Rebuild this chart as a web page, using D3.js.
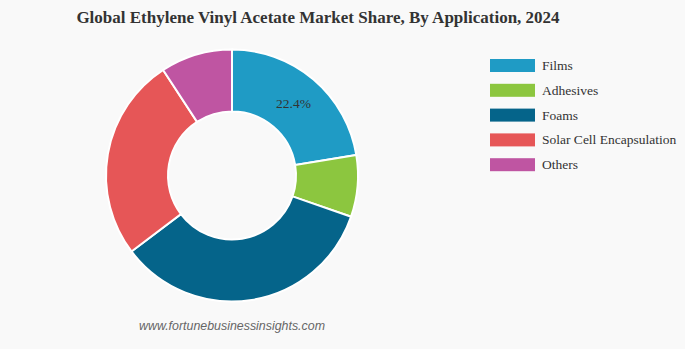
<!DOCTYPE html>
<html>
<head>
<meta charset="utf-8">
<script src="https://cdn.jsdelivr.net/npm/d3@7"></script>
<style>
  body { margin: 0; background: #f9f9f9; }
  svg { display: block; }
</style>
</head>
<body>
<svg width="685" height="349"></svg>
<script>
var categories = ["Films", "Adhesives", "Foams", "Solar Cell Encapsulation", "Others"];
var shares = [22.4, 7.9, 34.4, 26.1, 9.2];
var colors = ["#1f9bc5", "#8cc63f", "#05648a", "#e65657", "#bf55a2"];
var labelled = ["Films"];

var width = 685, height = 349;
var cx = 232, cy = 175.5;
var outerR = 126, innerR = 64;

var svg = d3.select("svg");

svg.append("rect")
  .attr("width", width)
  .attr("height", height)
  .attr("fill", "#f9f9f9");

// title
svg.append("text")
  .text("Global Ethylene Vinyl Acetate Market Share, By Application, 2024")
  .attr("x", 318)
  .attr("y", 23)
  .attr("text-anchor", "middle")
  .style("font-family", "'Liberation Serif', 'Times New Roman', serif")
  .style("font-weight", "bold")
  .style("font-size", "17px")
  .attr("fill", "#333");

var data = categories.map(function(c, i) {
  return { name: c, value: shares[i] };
});

var color = d3.scaleOrdinal().domain(categories).range(colors);

var pie = d3.pie().value(function(d) { return d.value; }).sort(null);
var arc = d3.arc().innerRadius(innerR).outerRadius(outerR);

var g = svg.append("g").attr("transform", "translate(" + cx + "," + cy + ")");

g.selectAll("path")
  .data(pie(data))
  .enter()
  .append("path")
  .attr("d", arc)
  .attr("fill", function(d) { return color(d.data.name); })
  .attr("stroke", "#fff")
  .attr("stroke-width", 2);

// slice labels
g.selectAll("text")
  .data(pie(data).filter(function(d) { return labelled.indexOf(d.data.name) >= 0; }))
  .enter()
  .append("text")
  .text(function(d) { return d.data.value.toFixed(1) + "%"; })
  .attr("transform", function(d) { return "translate(" + arc.centroid(d) + ")"; })
  .attr("dy", "0.35em")
  .attr("text-anchor", "middle")
  .style("font-family", "'Liberation Serif', 'Times New Roman', serif")
  .style("font-size", "13.5px")
  .attr("fill", "#333");

// legend
var legend = svg.append("g").attr("transform", "translate(490,59)");
var rows = legend.selectAll("g")
  .data(categories)
  .enter()
  .append("g")
  .attr("transform", function(d, i) { return "translate(0," + (i * 24.8) + ")"; });

rows.append("rect")
  .attr("width", 45)
  .attr("height", 13)
  .attr("fill", function(d) { return color(d); });

rows.append("text")
  .text(function(d) { return d; })
  .attr("x", 52)
  .attr("y", 11)
  .style("font-family", "'Liberation Serif', 'Times New Roman', serif")
  .style("font-size", "13.5px")
  .attr("fill", "#333");

// source
svg.append("text")
  .text("www.fortunebusinessinsights.com")
  .attr("x", 232)
  .attr("y", 330)
  .attr("text-anchor", "middle")
  .style("font-family", "'Liberation Sans', Arial, sans-serif")
  .style("font-style", "italic")
  .style("font-size", "12.4px")
  .attr("fill", "#666");
</script>
</body>
</html>
